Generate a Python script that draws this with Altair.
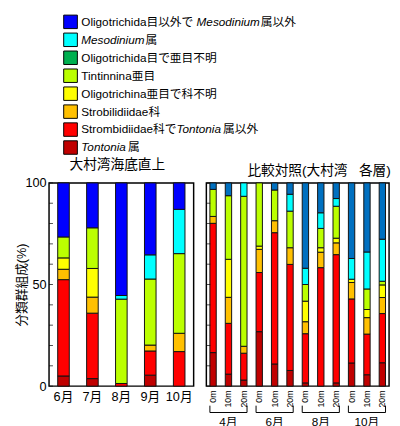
import altair as alt
import pandas as pd

FONT = "Liberation Sans, Noto Sans CJK JP, sans-serif"

# ---- categories (bottom -> top of each stack) ----
cat_pre = ["", "Strombidiidae科で", "Strobilidiidae科", "Oligotrichina亜目で科不明",
           "Tintinnina亜目", "Oligotrichida目で亜目不明", "", "Oligotrichida目以外で "]
cat_ital = ["Tontonia", "Tontonia", "", "", "", "", "Mesodinium", "Mesodinium"]
cat_post = ["属", "属以外", "", "", "", "", "属", "属以外"]
cats = [p + i + s for p, i, s in zip(cat_pre, cat_ital, cat_post)]

left_colors = ["#C00000", "#FF0000", "#FFC000", "#FFFF00", "#BBFF00", "#00B050", "#00FFFF", "#0000FF"]
right_colors = ["#C00000", "#FF0000", "#FFC000", "#FFFF00", "#BBFF00", "#00B050", "#00FFFF", "#0070C0"]

# ---- left panel: 大村湾海底直上 ----
left_months = ["6月", "7月", "8月", "9月", "10月"]
left_values = [
    [5.0, 3.7, 0.0, 5.4, 0.0],        # Tontonia属
    [47.4, 32.2, 1.3, 11.9, 17.0],    # Strombidiidae科でTontonia属以外
    [5.1, 7.9, 0.0, 2.9, 9.0],        # Strobilidiidae科
    [5.6, 14.1, 0.0, 0.0, 0.0],       # Oligotrichina亜目で科不明
    [10.3, 20.0, 41.5, 32.5, 39.2],   # Tintinnina亜目
    [0.0, 0.0, 0.0, 0.0, 0.0],        # Oligotrichida目で亜目不明
    [0.0, 0.0, 1.8, 11.9, 21.8],      # Mesodinium属
    [26.6, 22.1, 55.4, 35.4, 13.0],   # その他
]

# ---- right panel: 比較対照 ----
right_months = ["4月", "6月", "8月", "10月"]
right_depths = ["0m", "10m", "20m"]
right_values = [
    [16.5, 5.9, 3.0, 26.8, 10.9, 7.7, 1.6, 0.0, 1.6, 11.4, 5.6, 11.5],
    [63.6, 25.0, 13.2, 29.1, 64.6, 52.2, 24.2, 58.3, 63.1, 31.5, 20.0, 24.2],
    [3.4, 12.8, 3.4, 11.4, 5.9, 8.2, 5.9, 7.6, 5.8, 8.1, 8.1, 7.9],
    [0.0, 18.7, 0.0, 1.6, 0.0, 0.0, 10.1, 2.2, 2.3, 1.6, 4.0, 6.2],
    [13.3, 31.3, 73.8, 31.1, 15.1, 18.0, 8.2, 9.5, 15.7, 0.0, 10.1, 1.8],
    [0.0, 0.0, 0.0, 0.0, 0.0, 0.0, 0.0, 0.0, 0.0, 0.0, 0.0, 0.0],
    [0.0, 0.0, 6.6, 0.0, 0.0, 8.3, 8.0, 7.7, 3.8, 10.2, 18.2, 20.7],
    [3.2, 6.3, 0.0, 0.0, 3.5, 5.6, 42.0, 14.7, 7.7, 37.2, 34.0, 27.7],
]

yticks = list(range(0, 101, 10))
ylabels = [0, 50, 100]

# ---- tables ----
keys = [f"{m}|{d}" for m in right_months for d in right_depths]
rows_l = [{"cat": cats[i], "idx": i, "month": m, "value": v}
          for i, vals in enumerate(left_values) for m, v in zip(left_months, vals) if v > 0]
rows_r = [{"cat": cats[i], "idx": i, "key": k, "value": v}
          for i, vals in enumerate(right_values) for k, v in zip(keys, vals) if v > 0]
df_left = pd.DataFrame(rows_l)
df_right = pd.DataFrame(rows_r)
df_groups = pd.DataFrame({
    "month": right_months,
    "first": [f"{m}|{right_depths[0]}" for m in right_months],
    "mid": [f"{m}|{right_depths[1]}" for m in right_months],
    "last": [f"{m}|{right_depths[2]}" for m in right_months],
})

yscale = alt.Scale(domain=[0, 100], nice=False)


def ticks_layer():
    return alt.Chart(pd.DataFrame({"value": yticks})).mark_tick(
        orient="horizontal", size=4, thickness=1, color="black"
    ).encode(x=alt.value(2), y=alt.Y("value:Q", scale=yscale))


# left panel
xl_scale = alt.Scale(domain=left_months, paddingInner=0.6, paddingOuter=0.3)
left_bars = alt.Chart(df_left).mark_bar(stroke="#111111", strokeWidth=1).encode(
    x=alt.X("month:N", scale=xl_scale,
            axis=alt.Axis(title=None, labelAngle=0, ticks=False, domain=False,
                          labelFontSize=13, labelPadding=5)),
    y=alt.Y("value:Q", stack="zero", scale=yscale,
            axis=alt.Axis(values=ylabels, ticks=False, domain=False, labelPadding=3,
                          labelFontSize=13, title="分類群組成(%)", titleFontSize=13,
                          titleFontWeight="normal", titleX=-21, titleY=104)),
    color=alt.Color("cat:N", scale=alt.Scale(domain=cats, range=left_colors), legend=None),
    order=alt.Order("idx:Q"),
)
left = alt.layer(left_bars, ticks_layer()).properties(
    width=148, height=208, title=alt.Title("大村湾海底直上", dx=21))

# right panel
xr_scale = alt.Scale(domain=keys, paddingInner=0.587, paddingOuter=0.23)
right_bars = alt.Chart(df_right).mark_bar(stroke="#111111", strokeWidth=1).encode(
    x=alt.X("key:N", scale=xr_scale,
            axis=alt.Axis(title=None, labelExpr="split(datum.value, '|')[1]", labelAngle=-90,
                          ticks=False, domain=False, labelFontSize=9, labelPadding=4)),
    y=alt.Y("value:Q", stack="zero", scale=yscale, axis=None),
    color=alt.Color("cat:N", scale=alt.Scale(domain=cats, range=right_colors), legend=None),
    order=alt.Order("idx:Q"),
)
bracket_h = alt.Chart(df_groups).mark_rule(color="black", strokeWidth=1).encode(
    x=alt.X("first:N", bandPosition=0, scale=xr_scale),
    x2=alt.X2("last:N", bandPosition=1),
    y=alt.value(235),
)
bracket_l = alt.Chart(df_groups).mark_rule(color="black", strokeWidth=1).encode(
    x=alt.X("first:N", bandPosition=0, scale=xr_scale),
    y=alt.value(228), y2=alt.value(235),
)
bracket_r = alt.Chart(df_groups).mark_rule(color="black", strokeWidth=1).encode(
    x=alt.X("last:N", bandPosition=1, scale=xr_scale),
    y=alt.value(228), y2=alt.value(235),
)
month_text = alt.Chart(df_groups).mark_text(fontSize=12, baseline="top", color="black").encode(
    x=alt.X("mid:N", scale=xr_scale),
    y=alt.value(240),
    text="month:N",
)
right = alt.layer(right_bars, ticks_layer(), bracket_h, bracket_l, bracket_r, month_text).properties(
    width=187, height=208, title=alt.Title("比較対照(大村湾\u00a0\u00a0\u00a0各層)", dx=42))

# ---- legend (manual, for mixed italic text) ----
CW = {'O': 778, 'l': 222, 'i': 222, 'g': 556, 'o': 556, 't': 278, 'r': 333, 'c': 500,
      'h': 556, 'd': 556, 'a': 556, 'S': 667, 'm': 833, 'b': 556, 'e': 556, 'T': 611,
      'n': 556, 'M': 833, 's': 500, 'u': 556, ' ': 278}


def tw(s, size=12):
    return sum(CW.get(ch, 1000) for ch in s) * size / 1000.0


SWX = 15
TX = 33
leg_df = pd.DataFrame({"cat": cats, "pre": cat_pre, "ital": cat_ital, "post": cat_post})
leg_df["x_pre"] = TX
leg_df["x_ital"] = [TX + tw(p) for p in cat_pre]
leg_df["x_post"] = [TX + tw(p) + tw(i) + (1 if i else 0) for p, i in zip(cat_pre, cat_ital)]

leg_order = cats[::-1]
ly = alt.Y("cat:N", scale=alt.Scale(domain=leg_order, paddingInner=0.25, paddingOuter=0.125), axis=None)
sw = alt.Chart(leg_df).mark_rect(stroke="black", strokeWidth=1).encode(
    x=alt.value(SWX), x2=alt.value(SWX + 14), y=ly,
    color=alt.Color("cat:N", scale=alt.Scale(domain=cats, range=left_colors), legend=None),
)
t_pre = alt.Chart(leg_df).mark_text(align="left", baseline="middle", fontSize=12, color="black").encode(
    x=alt.X("x_pre:Q", scale=None, axis=None), y=ly, text="pre:N")
t_ital = alt.Chart(leg_df).mark_text(align="left", baseline="middle", fontSize=12, color="black",
                                     fontStyle="italic").encode(
    x=alt.X("x_ital:Q", scale=None, axis=None), y=ly, text="ital:N")
t_post = alt.Chart(leg_df).mark_text(align="left", baseline="middle", fontSize=12, color="black").encode(
    x=alt.X("x_post:Q", scale=None, axis=None), y=ly, text="post:N")
legend = alt.layer(sw, t_pre, t_ital, t_post).properties(
    width=300, height=147, view=alt.ViewBackground(strokeWidth=0, stroke="transparent"))

panels = alt.hconcat(left, right, spacing=11).resolve_scale(color="independent")
chart = alt.vconcat(legend, panels, spacing=1).resolve_scale(color="independent").properties(
    padding={"left": 7, "top": 0, "right": 0, "bottom": 0}
).configure(font=FONT).configure_view(stroke="black", strokeWidth=1.5).configure_axis(
    grid=False, labelColor="black", titleColor="black", labelFont=FONT, titleFont=FONT
).configure_title(font=FONT, fontSize=14, fontWeight="normal", color="black",
                  anchor="start", frame="group", offset=5)

chart.save("out.html", embed_options={"renderer": "svg", "actions": False})
